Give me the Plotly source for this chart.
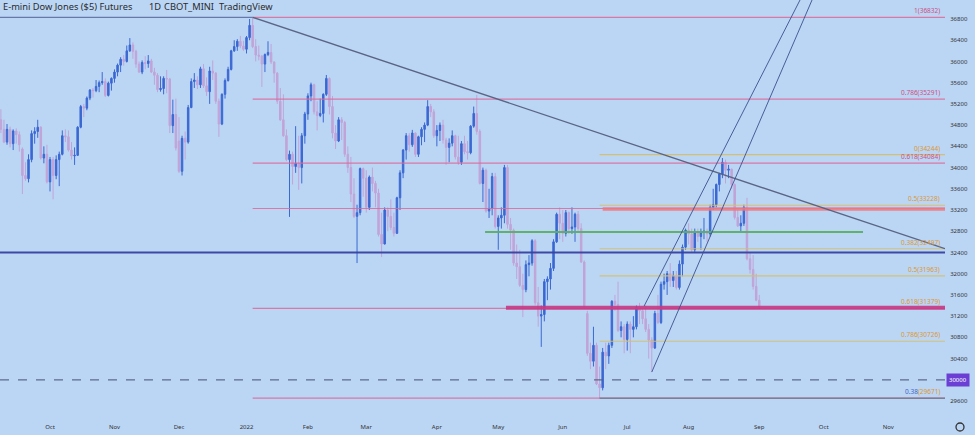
import numpy as np
import pandas as pd
import plotly.graph_objects as go

# ---------------- DATA (E-mini Dow futures, daily OHLC) ----------------
open_ = [
    34900, 34720, 34480, 34720, 34450, 34690, 34620, 34350, 33850, 33790, 34150, 34640, 34680, 34760, 34180, 34250,  # Sep 21
    33730, 34150, 33850, 34150, 34250, 34600, 34580, 34330, 34220, 34230, 34760, 35150, 35120, 35310, 35460, 35450, 35530, 35600, 35620, 35360, 35590,  # Oct
    35680, 35800, 35930, 36040, 36000, 36200, 36310, 36190, 35950, 35800, 35980, 35960, 36010, 35800, 35740, 35470, 35490, 35680, 35670, 34790, 35000,  # Nov
    34500, 33930, 34550, 34480, 35130, 35620, 35650, 35560, 35860, 35540, 35430, 35820, 35780, 35250, 34820, 35380, 35640, 35850, 36200, 36280, 36380, 36290,  # Dec
    36230, 36450, 36680, 36280, 36120, 36100, 35950, 36130, 36170, 35990, 35780, 35250, 34900, 34600, 34150, 34250, 34020, 34080, 34000, 34600,  # Jan 22
    35010, 35350, 35560, 35050, 34980, 35020, 35380, 35680, 35150, 34650, 34500, 34900, 34850, 34250, 34000, 33500, 33080, 33150, 33980,  # Feb
    33800, 33250, 33820, 33700, 33520, 32740, 32560, 33200, 33080, 32870, 32760, 33430, 33900, 34330, 34600, 34430, 34650, 34250, 34580, 34720, 34800, 35150, 35050,  # Mar
    34600, 34700, 34800, 34520, 34380, 34460, 34600, 34200, 34100, 34450, 34300, 34280, 34780, 35020, 34680, 33700, 33950, 33180, 33230, 33830,  # Apr
    32890, 33050, 33100, 34000, 32930, 32820, 32200, 32130, 31780, 31700, 32170, 32200, 32620, 31450, 31200, 31230, 31850, 31900, 32100, 32600, 33120,  # May
    32950, 32760, 33150, 32850, 32880, 33120, 32850, 32220, 31250, 30500, 30350, 30650, 29920, 29850, 30520, 30450, 30650, 31480, 31420, 30930, 31000,  # Jun
    30760, 31050, 30950, 31000, 31360, 31300, 31150, 30950, 30750, 30600, 31250, 31080, 31800, 31850, 32000, 31870, 31960, 31740, 32180, 32500,  # Jul
    32820, 32750, 32450, 32780, 32700, 32780, 32800, 32750, 33250, 33300, 33680, 33880, 34100, 33950, 33970, 33680, 33060, 32900, 32950, 33250, 32280, 32080, 31760,  # Aug
    31500,  # Sep 22
]
high = [
    35100, 34900, 34820, 34770, 34720, 34740, 34680, 34380, 34100, 34250, 34700, 34760, 34900, 34780, 34400, 34430,
    34200, 34200, 34230, 34300, 34700, 34720, 34700, 34480, 34380, 34780, 35180, 35200, 35340, 35480, 35500, 35650, 35640, 35800, 35680, 35620, 35700,
    35850, 35960, 36080, 36120, 36300, 36440, 36360, 36220, 36000, 36020, 36100, 36120, 36050, 35880, 35780, 35720, 35720, 35840, 35690, 35280, 35300,
    34950, 34600, 34680, 35180, 35680, 35780, 35720, 35900, 35950, 35700, 35900, 36020, 35800, 35300, 35400, 35680, 35900, 36220, 36400, 36420, 36480, 36390,
    36480, 36800, 36832, 36420, 36300, 36120, 36150, 36380, 36330, 36000, 35800, 35500, 35380, 34720, 34320, 34300, 34780, 34600, 34650, 35050,
    35400, 35600, 35580, 35250, 35300, 35400, 35745, 35700, 35350, 34800, 34950, 34950, 34880, 34400, 34200, 33800, 33300, 34000, 34000,
    33950, 33850, 34000, 33750, 33600, 33150, 33250, 33250, 33400, 33150, 33450, 33950, 34350, 34650, 34650, 34710, 34660, 34600, 34760, 34850, 35270, 35200, 35100,
    34800, 34850, 34900, 34560, 34550, 34700, 34620, 34600, 34500, 34600, 34500, 34800, 35150, 35370, 34720, 34000, 33980, 33600, 33900, 33900,
    33100, 33250, 34050, 34050, 33050, 32850, 32550, 32450, 32000, 32250, 32350, 32650, 32650, 31750, 31400, 31900, 31950, 32200, 32650, 33150, 33250,
    33200, 33200, 33170, 33250, 33150, 33180, 32950, 32250, 31300, 30700, 31000, 30700, 30250, 30600, 30700, 30700, 31500, 31600, 31850, 31100, 31050,
    31100, 31100, 31200, 31400, 31450, 31350, 31400, 31050, 30800, 31300, 31600, 31850, 32000, 32050, 32200, 32050, 32050, 32250, 32550, 32850,
    32950, 32850, 32850, 32850, 32850, 33050, 32850, 33300, 33600, 33700, 33900, 34180, 34150, 34050, 33980, 33700, 33200, 33100, 33300, 33430, 32400, 32350, 32000,
    31600,
]
low = [
    34650, 34460, 34430, 34380, 34330, 34450, 34300, 33500, 33750, 33720, 34100, 34450, 34560, 34150, 34080, 33700,
    33550, 33400, 33780, 33650, 34230, 34480, 34300, 34150, 34050, 34220, 34740, 34950, 35080, 35270, 35320, 35420, 35420, 35560, 35330, 35340, 35450,
    35600, 35720, 35800, 35920, 35980, 36180, 36050, 35880, 35780, 35760, 35850, 35880, 35780, 35560, 35420, 35430, 35380, 35400, 34650, 34650, 34320,
    33900, 33850, 34150, 34450, 35120, 35500, 35480, 35500, 35500, 35350, 35200, 35650, 35200, 34580, 34800, 35300, 35620, 35830, 36180, 36200, 36250, 36200,
    36150, 36400, 36250, 36000, 36020, 35520, 35800, 36100, 35950, 35600, 35200, 34880, 34580, 34120, 33070, 33680, 33900, 33580, 33700, 34450,
    34900, 35250, 35000, 34700, 34950, 34850, 35350, 35000, 34550, 34350, 34480, 34520, 34200, 33900, 33350, 33050, 32200, 33100, 33450,
    33150, 33200, 33550, 33250, 32700, 32313, 32550, 32800, 32820, 32700, 32750, 33200, 33800, 34150, 34300, 34390, 34200, 34200, 34420, 34480, 34780, 34950, 34560,
    34400, 34500, 34450, 34050, 34100, 34400, 34150, 34050, 34050, 34250, 34150, 34250, 34750, 34620, 33680, 33350, 33150, 33050, 33100, 32850,
    32450, 32850, 32950, 32850, 32450, 32150, 31900, 31750, 31180, 31650, 31950, 32150, 31400, 31000, 30620, 31100, 31500, 31700, 32050, 32580, 32650,
    32600, 32700, 32750, 32750, 32600, 32800, 32200, 31350, 30450, 30200, 30250, 29900, 29653, 29800, 30200, 30300, 30600, 31300, 30900, 30800, 30500,
    30550, 30500, 30800, 30950, 31050, 31050, 30900, 30400, 30146, 30580, 31050, 31050, 31700, 31600, 31750, 31750, 31700, 31700, 31950, 32450,
    32550, 32400, 32400, 32600, 32450, 32650, 32600, 32700, 33200, 33250, 33550, 33800, 33700, 33800, 33600, 33020, 32880, 32800, 32900, 32250, 32000, 31700, 31480,
    31340,
]
close = [
    34720, 34480, 34720, 34450, 34690, 34620, 34430, 33850, 33790, 34150, 34640, 34680, 34760, 34180, 34250, 33730,
    34150, 33850, 34150, 34250, 34600, 34580, 34330, 34220, 34230, 34760, 35150, 35120, 35310, 35460, 35450, 35530, 35600, 35620, 35360, 35590, 35680,
    35800, 35930, 36040, 36000, 36200, 36310, 36190, 35950, 35800, 35980, 35960, 36010, 35800, 35740, 35470, 35490, 35680, 35670, 34790, 35000, 34370,
    33930, 34550, 34480, 35130, 35620, 35650, 35560, 35860, 35540, 35430, 35820, 35780, 35250, 34820, 35380, 35640, 35850, 36200, 36280, 36380, 36290, 36230,
    36450, 36680, 36280, 36120, 36100, 35950, 36130, 36170, 35990, 35780, 35250, 34900, 34600, 34150, 34250, 34020, 34080, 34000, 34600, 35010,
    35350, 35560, 35050, 34980, 35020, 35380, 35680, 35150, 34650, 34500, 34900, 34850, 34250, 34000, 33500, 33080, 33150, 33980, 33800,
    33250, 33820, 33700, 33520, 32740, 32560, 33200, 33080, 32870, 32760, 33430, 33900, 34330, 34600, 34430, 34650, 34250, 34580, 34720, 34800, 35150, 35050, 34600,
    34700, 34800, 34520, 34380, 34460, 34600, 34200, 34100, 34450, 34300, 34280, 34780, 35020, 34680, 33700, 33950, 33180, 33230, 33830, 32890,
    33050, 33100, 34000, 32930, 32820, 32200, 32130, 31780, 31700, 32170, 32200, 32620, 31450, 31200, 31230, 31850, 31900, 32100, 32600, 33120, 32950,
    32760, 33150, 32850, 32880, 33120, 32850, 32220, 31380, 30500, 30350, 30650, 29920, 29850, 30520, 30450, 30650, 31480, 31420, 30930, 31000, 30760,
    31050, 30950, 31000, 31360, 31300, 31150, 30950, 30750, 30600, 31250, 31080, 31800, 31850, 32000, 31870, 31960, 31740, 32180, 32500, 32820,
    32750, 32450, 32780, 32700, 32780, 32800, 32750, 33250, 33300, 33680, 33880, 34100, 33950, 33970, 33680, 33060, 32900, 32950, 33250, 32280, 32080, 31760, 31500,
    31380,
]

first_day = "2021-09-09"
last_axis_day = "2022-11-30"
holidays = ["2021-11-25", "2021-12-24", "2022-01-17", "2022-02-21", "2022-04-15",
            "2022-05-30", "2022-06-20", "2022-07-04", "2022-09-05", "2022-11-24"]
month_labels = ["Oct", "Nov", "Dec", "2022", "Feb", "Mar", "Apr", "May",
                "Jun", "Jul", "Aug", "Sep", "Oct", "Nov"]
price_ticks = list(range(29600, 37200, 400))

# drawn levels (price values shown in labels)
pink_fib = [36832, 35291, 34084, 33228, 31345, 29653]
yellow_fib = [34244, 33290, 32470, 31958, 30726]
fib_labels = [("1(36832)", 36832, "pink"), ("0.786(35291)", 35291, "pink"),
              ("0(34244)", 34244, "gold"), ("0.618(34084)", 34084, "pink"),
              ("0.5(33228)", 33290, "gold"), ("0.382(32497)", 32470, "gold"),
              ("0.5(31963)", 31958, "gold"), ("0.618(31379)", 31359, "gold"),
              ("0.786(30726)", 30726, "gold")]
support_zone = 31359
resistance_zone = 33220
green_level = 32785
navy_level = 32400
psych_level = 30000

# ---------------- AXIS POSITIONS ----------------
days = pd.bdate_range(first_day, last_axis_day)
days = days[~days.isin(pd.to_datetime(holidays))]
n = len(close)
x = np.arange(n)
month_key = days.year * 100 + days.month
starts = [i for i in range(1, len(days)) if month_key[i] != month_key[i - 1]]
tick_pos = starts[:len(month_labels)]

def didx(d):
    return int(np.where(days == pd.Timestamp(d))[0][0])

i_top = didx("2022-01-05")
i_low = didx("2022-06-17")
i_jul = didx("2022-07-14")

X0, X1 = -0.29, 307.5
Y0, Y1 = 29374, 37158

BG = "#BBD6F5"
UP = "#3B68D2"
DOWN = "#C0A4D8"
PINK = "rgba(222,105,150,0.85)"
GOLD = "rgba(214,190,105,0.9)"

fig = go.Figure()
fig.add_trace(go.Candlestick(
    x=x, open=open_, high=high, low=low, close=close,
    increasing=dict(line=dict(color=UP, width=1), fillcolor=UP),
    decreasing=dict(line=dict(color=DOWN, width=1), fillcolor=DOWN),
    whiskerwidth=0, showlegend=False, hoverinfo="skip"))

def hline(y, xa, xb, color, width=1, dash="solid"):
    fig.add_shape(type="line", xref="x", yref="y", x0=xa, x1=xb, y0=y, y1=y,
                  line=dict(color=color, width=width, dash=dash), layer="above")

# pink fib (from Jan high)
for lv in pink_fib:
    hline(lv, i_top, X1, PINK, 1.2)
hline(36832, X0, i_top, "rgba(95,110,160,0.9)", 1.2)
# yellow fib (from June low)
for lv in yellow_fib:
    hline(lv, i_low, X1, GOLD, 1.2)
hline(29653, i_low, X1, "rgba(120,128,145,0.95)", 1.4)
# zones / levels
hline(resistance_zone, i_low + 1, X1, "rgba(238,120,125,0.85)", 3.5)
hline(support_zone, 164.5, X1, "rgba(200,55,130,0.9)", 4)
hline(green_level, 157.7, 280.8, "rgba(90,175,100,0.95)", 2)
hline(navy_level, X0, X1, "rgba(55,65,160,0.95)", 2)
hline(psych_level, X0, X1, "rgba(85,95,130,0.9)", 1.3, "dash")

# descending trendline from the January high
fig.add_shape(type="line", xref="x", yref="y", x0=i_top, y0=36832, x1=X1, y1=32472,
              line=dict(color="rgba(85,95,125,0.95)", width=1.4), layer="above")
# rising channel
fig.add_shape(type="line", xref="x", yref="y", x0=209.5, y0=31390, x1=263.6, y1=37535,
              line=dict(color="rgba(60,80,140,0.9)", width=1), layer="above")
fig.add_shape(type="line", xref="x", yref="y", x0=i_jul, y0=30146, x1=267.0, y1=37535,
              line=dict(color="rgba(60,80,140,0.9)", width=1), layer="above")

# fib labels
col = {"pink": "rgb(205,80,130)", "gold": "rgb(222,150,50)"}
for txt, lv, c in fib_labels:
    fig.add_annotation(xref="paper", yref="y", x=942 / 945, y=lv, text=txt,
                       xanchor="right", yanchor="bottom", showarrow=False,
                       font=dict(size=6.5, color=col[c], family="Noto Sans"))
fig.add_annotation(xref="paper", yref="y", x=942 / 945, y=29653,
                   text="<span style='color:rgb(70,100,190)'>0.38</span>(29671)",
                   xanchor="right", yanchor="bottom", showarrow=False,
                   font=dict(size=6.5, color=col["gold"], family="Noto Sans"))

# price label box for 30000
fig.add_annotation(xref="paper", yref="y", x=946 / 945, y=psych_level, text="30000",
                   xanchor="left", yanchor="middle", showarrow=False,
                   bgcolor="#6B3FD4", borderpad=2,
                   font=dict(size=6, color="white", family="Noto Sans"))

# title legend
for txt, px in [("E-mini Dow Jones ($5) Futures", 1), ("1D", 147),
                ("CBOT_MINI", 162), ("TradingView", 217)]:
    fig.add_annotation(xref="paper", yref="paper", x=px / 945, y=1 - 7 / 413, text=txt,
                       xanchor="left", yanchor="middle", showarrow=False,
                       font=dict(size=9.3, color="#2b2b2b", family="Noto Sans"))

# settings ring bottom-right
fig.add_shape(type="circle", xref="paper", yref="paper",
              x0=956 / 945, x1=964 / 945, y0=1 - 431 / 413, y1=1 - 423 / 413,
              line=dict(color="#333333", width=1.3))

fig.update_layout(
    width=975, height=435,
    margin=dict(l=0, r=30, t=0, b=22),
    paper_bgcolor=BG, plot_bgcolor=BG,
    font=dict(family="Noto Sans", color="#333333"),
    xaxis=dict(range=[X0, X1], rangeslider=dict(visible=False), showgrid=False,
               zeroline=False, tickvals=tick_pos, ticktext=month_labels,
               tickfont=dict(size=6, color="#333333"), ticks="outside",
               ticklen=8, tickcolor=BG, showline=False, fixedrange=True),
    yaxis=dict(range=[Y0, Y1], side="right", showgrid=False, zeroline=False,
               tickvals=price_ticks, ticktext=[str(v) for v in price_ticks],
               tickfont=dict(size=6, color="#333333"), ticks="outside",
               ticklen=3, tickcolor=BG, showline=False),
)

fig.write_html("out.html", config={"displayModeBar": False},
               post_script="document.body.style.margin='0';document.body.style.background='%s';" % BG)
